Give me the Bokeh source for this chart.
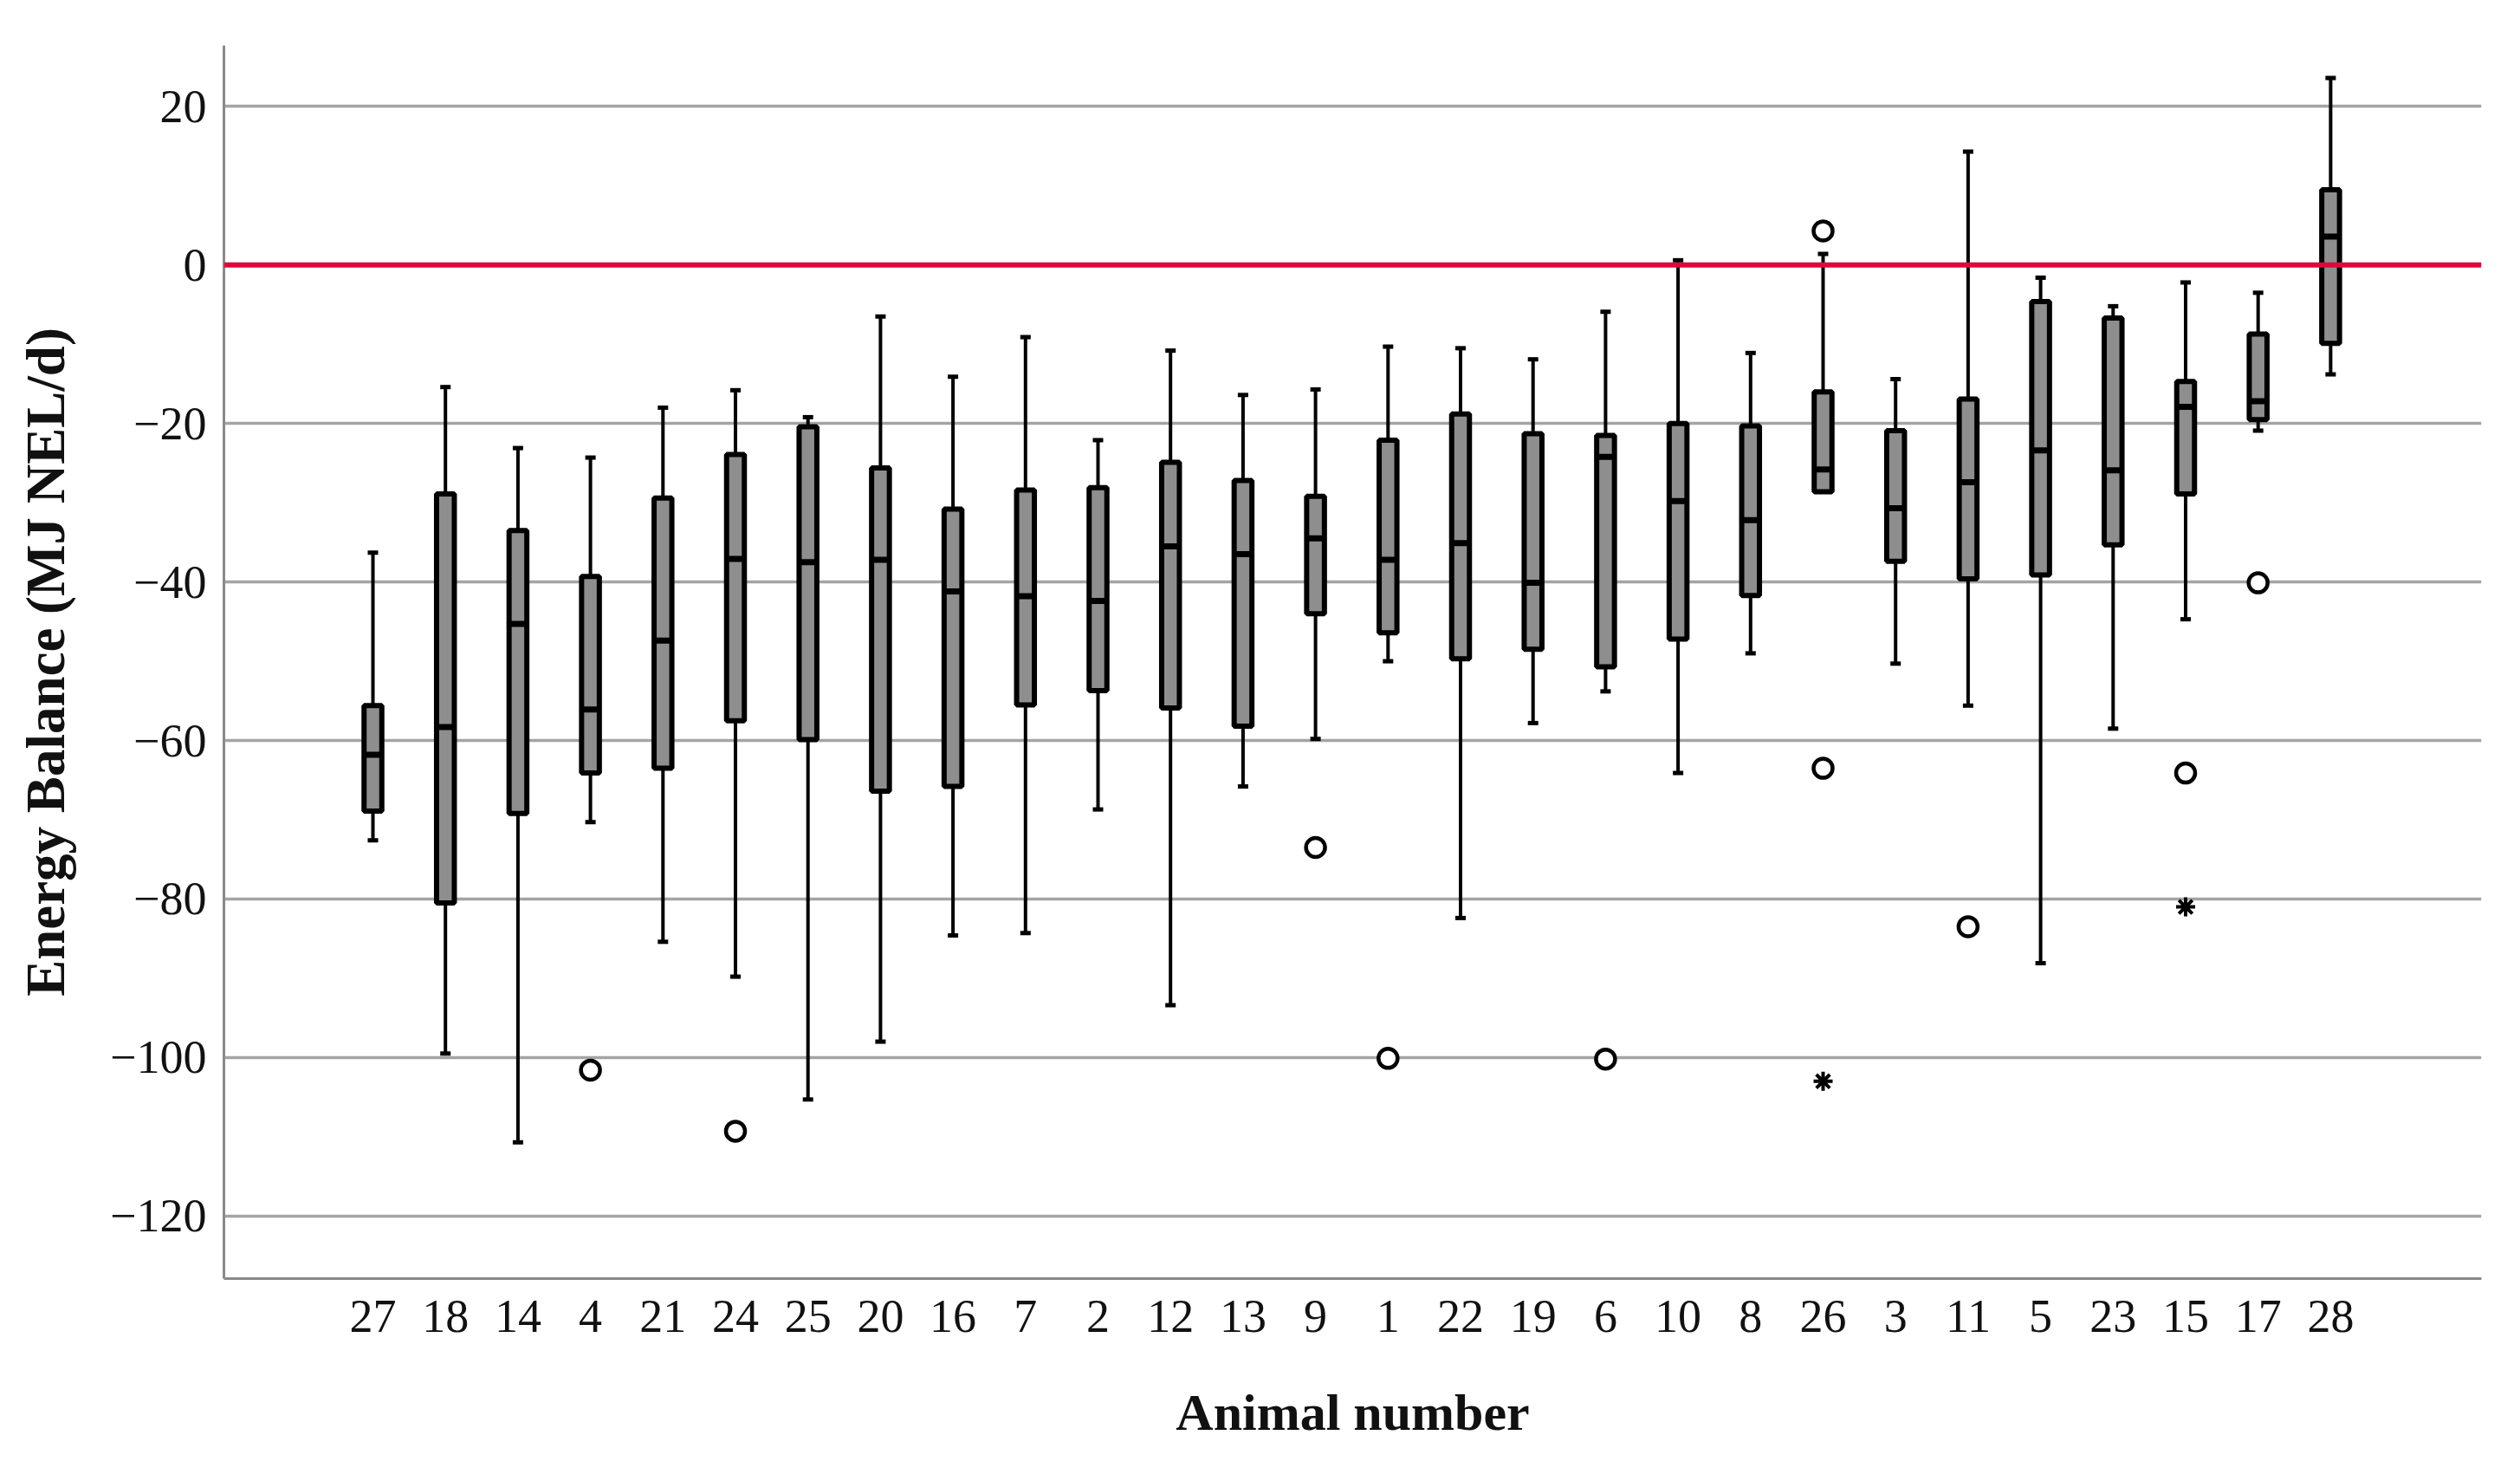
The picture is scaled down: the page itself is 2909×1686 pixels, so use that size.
from bokeh.plotting import figure
from bokeh.models import Range1d, FixedTicker, Span, ColumnDataSource
from bokeh.embed import file_html
from bokeh.resources import INLINE

# ---------------- data ----------------
animals = ["27", "18", "14", "4", "21", "24", "25", "20", "16", "7", "2", "12", "13", "9",
           "1", "22", "19", "6", "10", "8", "26", "3", "11", "5", "23", "15", "17", "28"]
whisker_high = [-36.3, -15.4, -23.1, -24.3, -18.0, -15.8, -19.2, -6.5, -14.1, -9.1, -22.1, -10.8, -16.4, -15.7,
                -10.3, -10.5, -11.9, -5.9, 0.6, -11.1, 1.4, -14.4, 14.3, -1.6, -5.2, -2.2, -3.5, 23.6]
q3 = [-55.6, -28.9, -33.5, -39.3, -29.4, -23.9, -20.4, -25.6, -30.8, -28.4, -28.1, -24.9, -27.2, -29.2,
      -22.1, -18.8, -21.3, -21.5, -20.0, -20.3, -16.0, -20.9, -16.9, -4.6, -6.7, -14.7, -8.7, 9.5]
median = [-61.8, -58.3, -45.3, -56.1, -47.4, -37.1, -37.5, -37.2, -41.2, -41.8, -42.4, -35.5, -36.5, -34.5,
          -37.2, -35.1, -40.1, -24.2, -29.8, -32.2, -25.8, -30.7, -27.4, -23.4, -25.9, -17.9, -17.2, 3.6]
q1 = [-68.9, -80.5, -69.2, -64.1, -63.5, -57.5, -59.9, -66.4, -65.8, -55.5, -53.7, -55.9, -58.2, -44.0,
      -46.4, -49.7, -48.5, -50.7, -47.2, -41.7, -28.6, -37.4, -39.6, -39.1, -35.3, -28.9, -19.5, -9.9]
whisker_low = [-72.6, -99.5, -110.7, -70.3, -85.4, -89.8, -105.3, -98.0, -84.6, -84.3, -68.7, -93.4, -65.8, -59.8,
               -50.0, -82.4, -57.8, -53.8, -64.1, -49.0, -28.6, -50.3, -55.6, -88.1, -58.5, -44.7, -20.9, -13.8]

outlier_animal = ["4", "24", "9", "1", "6", "26", "26", "11", "15", "17"]
outlier_value = [-101.6, -109.3, -73.5, -100.1, -100.2, 4.3, -63.5, -83.5, -64.1, -40.1]

extreme_animal = ["26", "15"]
extreme_value = [-103.0, -81.0]

y_ticks = [20, 0, -20, -40, -60, -80, -100, -120]

# ---------------- figure ----------------
FONT = "Liberation Serif"
xs = list(range(len(animals)))

p = figure(width=2893, height=1670, output_backend="svg", toolbar_location=None,
           x_range=Range1d(-2.055, len(animals) - 1 + 2.08), y_range=Range1d(-127.9, 27.7),
           min_border_left=258, min_border_right=29, min_border_top=52, min_border_bottom=195)
p.outline_line_color = None
p.background_fill_color = "white"

# grid
p.xgrid.visible = False
p.ygrid.grid_line_color = "#a4a4a4"
p.ygrid.grid_line_width = 3.5
p.ygrid.ticker = FixedTicker(ticks=y_ticks)

# axes
p.xaxis.ticker = FixedTicker(ticks=xs)
p.xaxis.major_label_overrides = {i: a for i, a in enumerate(animals)}
p.yaxis.ticker = FixedTicker(ticks=y_ticks)
p.yaxis.major_label_overrides = {t: (str(t).replace("-", "\u2212")) for t in y_ticks}
for ax in (p.xaxis[0], p.yaxis[0]):
    ax.axis_line_color = "#8a8a8a"
    ax.axis_line_width = 3
    ax.major_tick_line_color = None
    ax.minor_tick_line_color = None
    ax.major_tick_out = 0
    ax.major_tick_in = 0
    ax.major_label_text_font = FONT
    ax.major_label_text_font_size = "54px"
    ax.major_label_text_color = "#111111"
    ax.axis_label_text_font = FONT
    ax.axis_label_text_font_style = "bold"
    ax.axis_label_text_color = "#111111"

p.xaxis.axis_label = "Animal number"
p.yaxis.axis_label = "Energy Balance (MJ NEL/d)"
p.xaxis.axis_label_text_font_size = "60px"
p.yaxis.axis_label_text_font_size = "63px"
p.xaxis.major_label_standoff = 25
p.yaxis.major_label_standoff = 20
p.xaxis.axis_label_standoff = 57
p.yaxis.axis_label_standoff = 36

src = ColumnDataSource(dict(x=xs, hi=whisker_high, q3=q3, med=median, q1=q1, lo=whisker_low))

# whisker stems and caps
p.segment(x0="x", y0="lo", x1="x", y1="hi", source=src, line_color="black", line_width=4)
p.scatter(x="x", y="hi", source=src, marker="dash", size=12, line_color="black", line_width=5)
p.scatter(x="x", y="lo", source=src, marker="dash", size=12, line_color="black", line_width=5)

# boxes
BOXW = 0.245
p.vbar(x="x", top="q3", bottom="q1", width=BOXW, source=src,
       fill_color="#8e8e8e", line_color="black", line_width=6)
# medians
p.vbar(x="x", top="med", bottom="med", width=BOXW, source=src,
       fill_color=None, line_color="black", line_width=7)

# outliers
ox = [animals.index(a) for a in outlier_animal]
p.scatter(x=ox, y=outlier_value, marker="circle", size=22, fill_color="white",
          line_color="black", line_width=4.5)
ex = [animals.index(a) for a in extreme_animal]
p.scatter(x=ex, y=extreme_value, marker="asterisk", size=22, line_color="black", line_width=4)

# zero reference line
p.add_layout(Span(location=0, dimension="width", line_color="#dc0a3c", line_width=6))

open("out.html", "w").write(file_html(p, INLINE))
